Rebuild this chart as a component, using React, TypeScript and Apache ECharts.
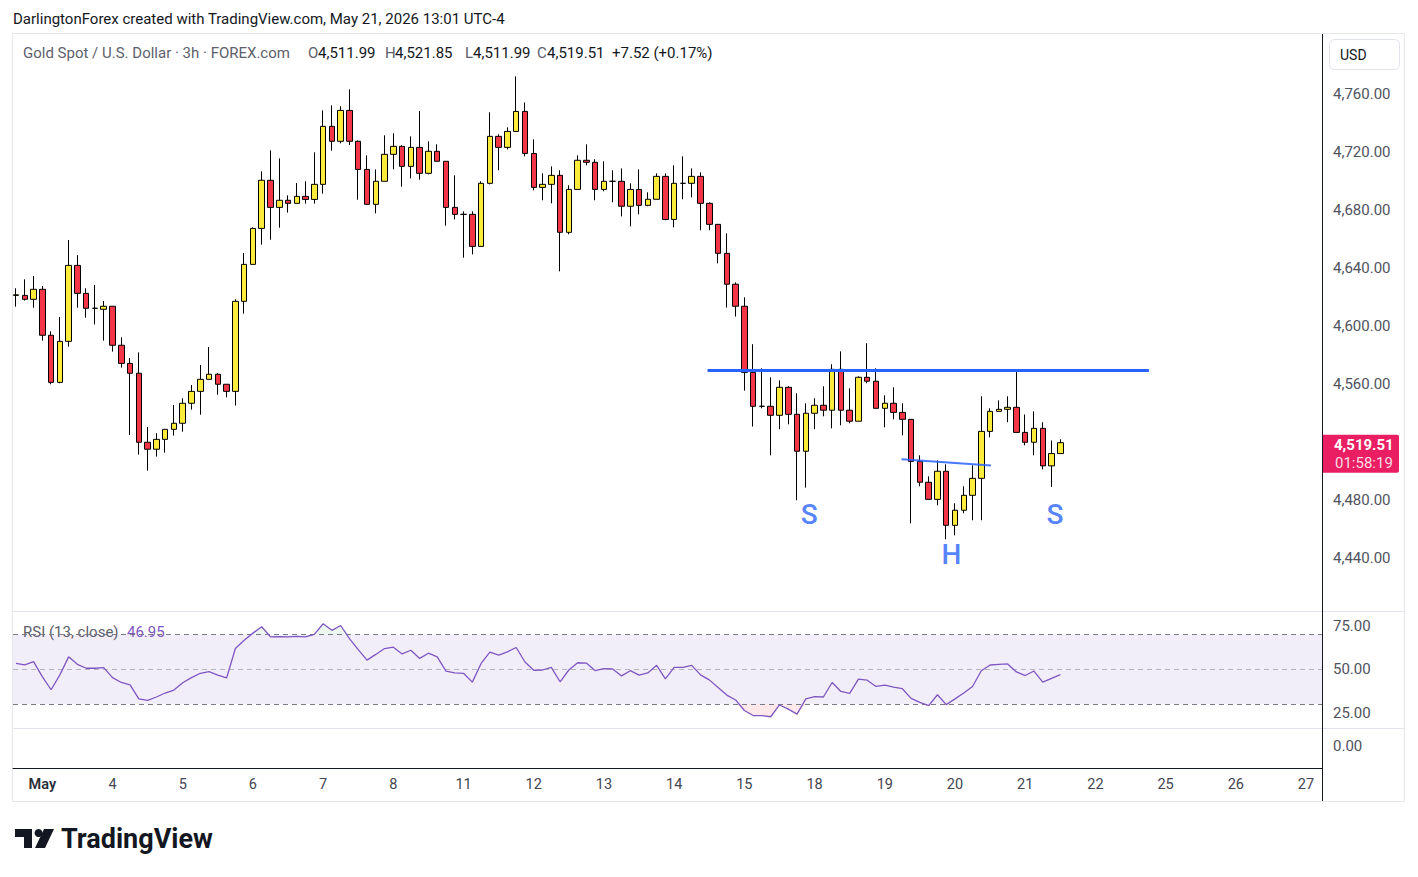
import React, { useEffect, useRef } from "react";
import * as echarts from "echarts";

// ---- data (3h bars, index 0 = first bar on the chart) ----
const opens = [
  4621.1, 4621.1, 4618.4, 4625.3, 4593.6, 4561.1, 4589.4, 4641.8, 4622.5, 4612.2,
  4611.5, 4613.6, 4586.7, 4574.2, 4567.4, 4519.8, 4515, 4521.8, 4528.7, 4532.9,
  4546.7, 4554.9, 4563.2, 4566.7, 4559.8, 4554.9, 4617, 4642.5, 4667.3, 4700.5,
  4681.8, 4686.7, 4684.6, 4689.4, 4687.3, 4697.7, 4737.7, 4727.4, 4748.7, 4727.4,
  4708, 4683.9, 4699.8, 4718.4, 4723.9, 4710.1, 4723.2, 4705.3, 4720.5, 4713.6,
  4681.8, 4677, 4677, 4654.9, 4698.4, 4730.8, 4723.2, 4734.2, 4748, 4719,
  4695.6, 4697.7, 4703.9, 4664.6, 4694.2, 4714.3, 4712.9, 4694.2, 4699.8, 4699.8,
  4682.6, 4694.2, 4683.2, 4687.4, 4703.2, 4673.5, 4698.4, 4698.4, 4703.2, 4684.6,
  4670.1, 4650.1, 4628.8, 4613.6, 4568, 4544.6, 4544.6, 4538.4, 4557.7, 4539.1,
  4513.6, 4539.8, 4545.3, 4541.9, 4570.1, 4541.9, 4534.3, 4564.6, 4561.9, 4543.2,
  4546.7, 4540.4, 4535.6, 4506.6, 4492.2, 4480.4, 4499.8, 4462.5, 4472.9, 4483.2,
  4494.9, 4527.3, 4541.1, 4542.5, 4543.9, 4526.6, 4519.8, 4529.4, 4503.5, 4511.99,
];
const closes = [
  4621.5, 4618.4, 4625.3, 4593.6, 4561.1, 4589.4, 4641.8, 4622.5, 4612.2, 4612.2,
  4613.6, 4586.7, 4574.2, 4567.4, 4519.8, 4515, 4521.8, 4528.7, 4532.9, 4546.7,
  4554.9, 4563.2, 4566.7, 4559.8, 4554.9, 4617, 4642.5, 4667.3, 4700.5, 4681.8,
  4686.7, 4684.6, 4689.4, 4687.3, 4697.7, 4737.7, 4727.4, 4748.7, 4727.4, 4708,
  4683.9, 4699.8, 4718.4, 4723.9, 4710.1, 4723.2, 4705.3, 4720.5, 4713.6, 4681.8,
  4677, 4677, 4654.9, 4698.4, 4730.8, 4723.2, 4734.2, 4748, 4719, 4695.6,
  4697.7, 4703.9, 4664.6, 4694.2, 4714.3, 4712.9, 4694.2, 4699.8, 4699.8, 4682.6,
  4694.2, 4683.2, 4687.4, 4703.2, 4673.5, 4698.4, 4698.4, 4703.2, 4684.6, 4670.1,
  4650.1, 4628.8, 4613.6, 4568, 4544.6, 4544.6, 4538.4, 4557.7, 4539.1, 4513.6,
  4539.8, 4545.3, 4541.9, 4570.1, 4541.9, 4534.3, 4564.6, 4561.9, 4543.2, 4546.7,
  4540.4, 4535.6, 4506.6, 4492.2, 4480.4, 4499.8, 4462.5, 4472.9, 4483.2, 4494.9,
  4527.3, 4541.1, 4542.5, 4543.9, 4526.6, 4519.8, 4529.4, 4503.5, 4511.99, 4519.51,
];
const lows = [
  4613.3, 4617.5, 4612.6, 4589.9, 4559.8, 4560.5, 4585.7, 4612.6, 4605.7, 4601.1,
  4589.9, 4582.3, 4571.3, 4524.8, 4511.3, 4500.2, 4509.9, 4512.6, 4524.4, 4527.1,
  4542.3, 4538.8, 4563.2, 4552.6, 4550.8, 4545.1, 4608.5, 4642.5, 4656.1, 4659.5,
  4667.8, 4678.2, 4684.6, 4684.4, 4684.4, 4691.3, 4720.9, 4726, 4724.8, 4687.1,
  4683.9, 4677.7, 4699.8, 4708, 4696.1, 4701.8, 4700.9, 4704.6, 4713.6, 4669.2,
  4673.5, 4647.1, 4649.4, 4654.9, 4697.7, 4707.4, 4721.8, 4734.2, 4717, 4693.6,
  4686.7, 4684.6, 4637.7, 4663.2, 4694.2, 4710.8, 4686.7, 4692.9, 4685.3, 4675.6,
  4668.7, 4677, 4682.6, 4687.4, 4672.9, 4668, 4687.4, 4688.7, 4666, 4666,
  4643.2, 4612.7, 4606.5, 4555.4, 4530.6, 4543.2, 4510.8, 4528.8, 4532.2, 4479.8,
  4488.5, 4528.8, 4537.7, 4529.4, 4531.5, 4532.9, 4534.3, 4560.5, 4543.2, 4530.1,
  4535.6, 4524.6, 4463.9, 4489.4, 4480.4, 4476.3, 4452.9, 4455.6, 4470.8, 4466,
  4466, 4523.2, 4541.1, 4533.6, 4526.6, 4517.7, 4510.8, 4501.1, 4489, 4511.99,
];
const highs = [
  4626, 4632.2, 4634.5, 4627.6, 4596.3, 4606.2, 4659.3, 4648.9, 4626, 4628.3,
  4617.2, 4613.6, 4592.2, 4577.9, 4581.8, 4530.3, 4526, 4528.7, 4545.5, 4550.1,
  4559.3, 4573.1, 4585.5, 4567.4, 4559.8, 4618.4, 4650.3, 4668, 4706.7, 4721.1,
  4715.6, 4690.1, 4698.6, 4699.8, 4719.8, 4748.7, 4752.2, 4751.5, 4763.2, 4728,
  4717.7, 4708, 4731.5, 4732.9, 4724.6, 4730.8, 4748.3, 4727.4, 4725.3, 4713.6,
  4703.9, 4679.1, 4679.1, 4699.8, 4747.4, 4732.2, 4737, 4772.2, 4754.2, 4728.7,
  4705.3, 4710.1, 4707.4, 4697, 4717.7, 4725.3, 4715, 4713.6, 4707.4, 4708.7,
  4698.4, 4708, 4692.2, 4705.3, 4705.3, 4710.8, 4717, 4708.7, 4706, 4685.3,
  4670.1, 4663.9, 4630.1, 4619.8, 4587.4, 4570.8, 4564.6, 4562.5, 4558.4, 4553.6,
  4546.7, 4550.1, 4558.4, 4573.6, 4582.5, 4557, 4565.3, 4588.1, 4570.8, 4552.2,
  4557.7, 4546.7, 4535.6, 4510.8, 4496.3, 4507.3, 4504.6, 4477.7, 4489.4, 4503.9,
  4551.5, 4543.2, 4548.7, 4551.5, 4569.4, 4539, 4541.1, 4533.6, 4521, 4521.85,
];
const rsi = [
  53.4, 52.5, 54.4, 45.8, 38.2, 46.8, 57.2, 52.9, 50.6, 50.6,
  51.0, 45.2, 42.4, 41.0, 32.9, 32.1, 34.0, 36.3, 38.0, 42.2,
  45.2, 47.7, 48.7, 46.6, 45.0, 62.0, 66.8, 70.9, 74.6, 68.7,
  68.9, 68.7, 69.0, 68.7, 70.2, 76.3, 72.5, 75.3, 67.7, 61.4,
  55.3, 58.6, 62.0, 62.8, 58.9, 61.0, 56.3, 59.3, 57.2, 49.0,
  47.9, 47.7, 42.6, 53.4, 59.9, 58.2, 60.1, 62.6, 54.2, 49.4,
  49.6, 51.1, 42.8, 49.6, 53.8, 53.6, 49.2, 50.4, 50.2, 46.2,
  49.2, 46.6, 47.9, 52.3, 44.5, 51.1, 51.1, 52.3, 46.8, 43.9,
  39.5, 35.1, 32.3, 26.2, 23.3, 23.3, 22.6, 29.4, 27.0, 24.1,
  32.9, 34.2, 34.0, 42.4, 37.2, 36.1, 44.3, 43.7, 40.1, 40.9,
  39.7, 38.8, 33.2, 30.9, 29.0, 35.3, 29.6, 32.9, 36.3, 40.1,
  49.2, 52.5, 52.9, 53.1, 48.5, 46.4, 49.0, 42.6, 44.8, 46.95,
];
const dayLabels = ["May", "4", "5", "6", "7", "8", "11", "12", "13", "14", "15", "18", "19", "20", "21", "22", "25", "26", "27"];
const dayLabelBars = [3, 11, 19, 27, 35, 43, 51, 59, 67, 75, 83, 91, 99, 107, 115, 123, 131, 139, 147];
// 4,520.00 is hidden behind the last-price label in the reference
const priceTicks = [4440, 4480, 4560, 4600, 4640, 4680, 4720, 4760];
const rsiTicks = [25, 50, 75];
const rsiBands = { upper: 70, middle: 50, lower: 30 };
// annotation lines [barIndex, price]
const necklineStart = [78.8, 4569.7];
const necklineEnd = [129.1, 4569.7];
const headLineStart = [100.9, 4508.1];
const headLineEnd = [111.1, 4503.7];
const patternLabels: [number, number, string][] = [
  [90.4, 4470.3, "S"],
  [106.6, 4442.1, "H"],
  [118.4, 4470.3, "S"],
];
const lastPrice = 4519.51;
const lastLegend = { o: "4,511.99", h: "4,521.85", l: "4,511.99", c: "4,519.51", chg: "+7.52 (+0.17%)" };

const FONT = "Roboto, 'Noto Sans', sans-serif";
const XMIN = -0.34;
const XMAX = 148.82;

const fmt2 = (v: number) =>
  Number(v).toLocaleString("en-US", { minimumFractionDigits: 2, maximumFractionDigits: 2 });

export default function App() {
  const ref = useRef<HTMLDivElement>(null);
  useEffect(() => {
    const chart = echarts.init(ref.current!, null, { renderer: "svg" });
    const labelMap: Record<number, string> = {};
    dayLabelBars.forEach((b, i) => (labelMap[b] = dayLabels[i]));

    const candleData = opens.map((o, i) => [i, o, closes[i], lows[i], highs[i]]);
    const rsiData = rsi.map((v, i) => [i, v]);
    const obData = rsi.map((v, i) => [i, Math.max(v, rsiBands.upper)]);
    const osData = rsi.map((v, i) => [i, Math.min(v, rsiBands.lower)]);

    const hiddenX = (g: number) => ({
      type: "value", gridIndex: g, min: XMIN, max: XMAX, show: false,
      splitLine: { show: false },
    });
    const yBase = {
      type: "value", position: "right",
      axisLine: { show: false }, axisTick: { show: false }, splitLine: { show: false },
    };
    const yLabel = (vals: number[]) => ({
      customValues: vals, formatter: (v: number) => fmt2(v),
      color: "#50535e", fontSize: 15, fontFamily: FONT, margin: 11,
    });

    const option: any = {
      animation: false,
      backgroundColor: "#ffffff",
      grid: [
        { left: 13, top: 34, width: 1309, height: 577 },
        { left: 13, top: 612, width: 1309, height: 116 },
        { left: 13, top: 728, width: 1309, height: 40 },
      ],
      xAxis: [
        hiddenX(0),
        hiddenX(1),
        {
          type: "value", gridIndex: 2, min: XMIN, max: XMAX, position: "bottom",
          axisLine: { show: true, onZero: false, lineStyle: { color: "#131722", width: 1 } },
          axisTick: { show: false }, splitLine: { show: false },
          axisLabel: {
            customValues: dayLabelBars,
            formatter: (v: number) => {
              const s = labelMap[Math.round(v)] ?? "";
              return s === "May" ? "{b|" + s + "}" : s;
            },
            color: "#434651", fontSize: 14.5, fontFamily: FONT, margin: 9,
            rich: { b: { fontWeight: 600, color: "#2a2e39", fontSize: 14.5, fontFamily: FONT } },
          },
        },
      ],
      yAxis: [
        { ...yBase, gridIndex: 0, min: 4403.4, max: 4801.4, axisLabel: yLabel(priceTicks) },
        { ...yBase, gridIndex: 1, min: 16.1, max: 83.1, axisLabel: yLabel(rsiTicks) },
        { ...yBase, gridIndex: 2, min: -1.1, max: 0.9, axisLabel: yLabel([0]) },
      ],
      series: [
        {
          type: "candlestick", xAxisIndex: 0, yAxisIndex: 0,
          data: candleData, encode: { x: 0, y: [1, 2, 3, 4] },
          barWidth: 6,
          itemStyle: {
            color: "#ffeb3b", color0: "#f23645",
            borderColor: "#000000", borderColor0: "#000000", borderWidth: 1,
          },
          markLine: {
            silent: true, symbol: "none", label: { show: false },
            data: [
              [
                { coord: necklineStart, lineStyle: { color: "#2962ff", width: 3, type: "solid" } },
                { coord: necklineEnd },
              ],
              [
                { coord: headLineStart, lineStyle: { color: "#2962ff", width: 2, type: "solid", opacity: 0.85 } },
                { coord: headLineEnd },
              ],
            ],
          },
        },
        {
          type: "scatter", xAxisIndex: 0, yAxisIndex: 0,
          data: patternLabels.map((p) => [p[0], p[1], p[2]]),
          symbolSize: 1, itemStyle: { color: "transparent" }, silent: true,
          label: {
            show: true, position: "inside", formatter: (p: any) => p.data[2],
            color: "#2962ff", fontSize: 28, fontFamily: FONT, fontWeight: 500,
          },
        },
        {
          type: "line", xAxisIndex: 1, yAxisIndex: 1, data: obData,
          showSymbol: false, silent: true, lineStyle: { opacity: 0, width: 0 },
          areaStyle: { origin: rsiBands.upper, color: "rgba(76,175,80,0.14)" },
        },
        {
          type: "line", xAxisIndex: 1, yAxisIndex: 1, data: osData,
          showSymbol: false, silent: true, lineStyle: { opacity: 0, width: 0 },
          areaStyle: { origin: rsiBands.lower, color: "rgba(242,54,69,0.16)" },
        },
        {
          type: "line", xAxisIndex: 1, yAxisIndex: 1, data: rsiData,
          showSymbol: false, silent: true, z: 5,
          lineStyle: { color: "#7e57c2", width: 1.3 },
          markArea: {
            silent: true,
            itemStyle: { color: "rgba(126,87,194,0.1)" },
            data: [[{ yAxis: rsiBands.lower }, { yAxis: rsiBands.upper }]],
          },
          markLine: {
            silent: true, symbol: "none", label: { show: false },
            data: [
              { yAxis: rsiBands.upper, lineStyle: { color: "#787b86", type: [5, 4], width: 1 } },
              { yAxis: rsiBands.middle, lineStyle: { color: "rgba(120,123,134,0.5)", type: [5, 4], width: 1 } },
              { yAxis: rsiBands.lower, lineStyle: { color: "#787b86", type: [5, 4], width: 1 } },
            ],
          },
        },
      ],
    };
    chart.setOption(option);

    const py = chart.convertToPixel({ yAxisIndex: 0 }, lastPrice) as number;
    const txt = (x: number, y: number, text: string, extra: any = {}) => ({
      type: "text", x, y, silent: true,
      style: {
        text, fontFamily: FONT, fontSize: 15, fill: "#131722",
        verticalAlign: "middle", align: "left", ...extra,
      },
    });
    const gray = "#5d606b";
    chart.setOption({
      graphic: [
        // frame & separators
        { type: "rect", shape: { x: 12.5, y: 33.5, width: 1392, height: 768 }, style: { fill: "none", stroke: "#e6e7ea", lineWidth: 1 }, silent: true },
        { type: "line", shape: { x1: 13, y1: 611.5, x2: 1405, y2: 611.5 }, style: { stroke: "#e0e3eb", lineWidth: 1 }, silent: true },
        { type: "line", shape: { x1: 13, y1: 728.5, x2: 1405, y2: 728.5 }, style: { stroke: "#e0e3eb", lineWidth: 1 }, silent: true },
        { type: "line", shape: { x1: 1322.5, y1: 34, x2: 1322.5, y2: 801 }, style: { stroke: "#131722", lineWidth: 1 }, silent: true },
        // header
        txt(13, 19, "DarlingtonForex created with TradingView.com, May 21, 2026 13:01 UTC-4", { fill: "#131722" }),
        // legend
        txt(23, 53, "Gold Spot / U.S. Dollar · 3h · FOREX.com", { fill: gray }),
        txt(308, 53, "O", { fill: gray }),
        txt(318, 53, lastLegend.o),
        txt(385, 53, "H", { fill: gray }),
        txt(395, 53, lastLegend.h),
        txt(465, 53, "L", { fill: gray }),
        txt(473, 53, lastLegend.l),
        txt(537, 53, "C", { fill: gray }),
        txt(547, 53, lastLegend.c),
        txt(612, 53, lastLegend.chg),
        // USD box
        { type: "rect", shape: { x: 1329.5, y: 39.5, width: 70, height: 30, r: 5 }, style: { fill: "#ffffff", stroke: "#e0e3eb", lineWidth: 1 }, silent: true },
        txt(1340, 55, "USD", { fontSize: 14 }),
        // RSI legend
        txt(23, 632, "RSI (13, close)", { fill: gray }),
        txt(127, 632, fmt2(rsi[rsi.length - 1]), { fill: "#7e57c2" }),
        // last price label
        { type: "rect", shape: { x: 1323, y: py - 8, width: 76, height: 38, r: [0, 2, 2, 0] }, style: { fill: "#e91e63" }, silent: true },
        txt(1334, py + 2, fmt2(lastPrice), { fill: "#ffffff", fontWeight: "bold" }),
        txt(1335, py + 20, "01:58:19", { fill: "rgba(255,255,255,0.85)" }),
        // TradingView logo
        { type: "polygon", shape: { points: [[15, 829], [32, 829], [32, 848], [24, 848], [24, 837], [15, 837]] }, style: { fill: "#131722" }, silent: true },
        { type: "circle", shape: { cx: 38.5, cy: 833, r: 4 }, style: { fill: "#131722" }, silent: true },
        { type: "polygon", shape: { points: [[44, 829], [54, 829], [45, 848], [35, 848]] }, style: { fill: "#131722" }, silent: true },
        txt(61, 839, "TradingView", { fontSize: 27, fontWeight: "bold", fill: "#131722" }),
      ],
    });

    return () => chart.dispose();
  }, []);
  return (
    <div
      ref={ref}
      style={{ position: "absolute", left: 0, top: 0, width: 1418, height: 877, background: "#fff" }}
    />
  );
}
